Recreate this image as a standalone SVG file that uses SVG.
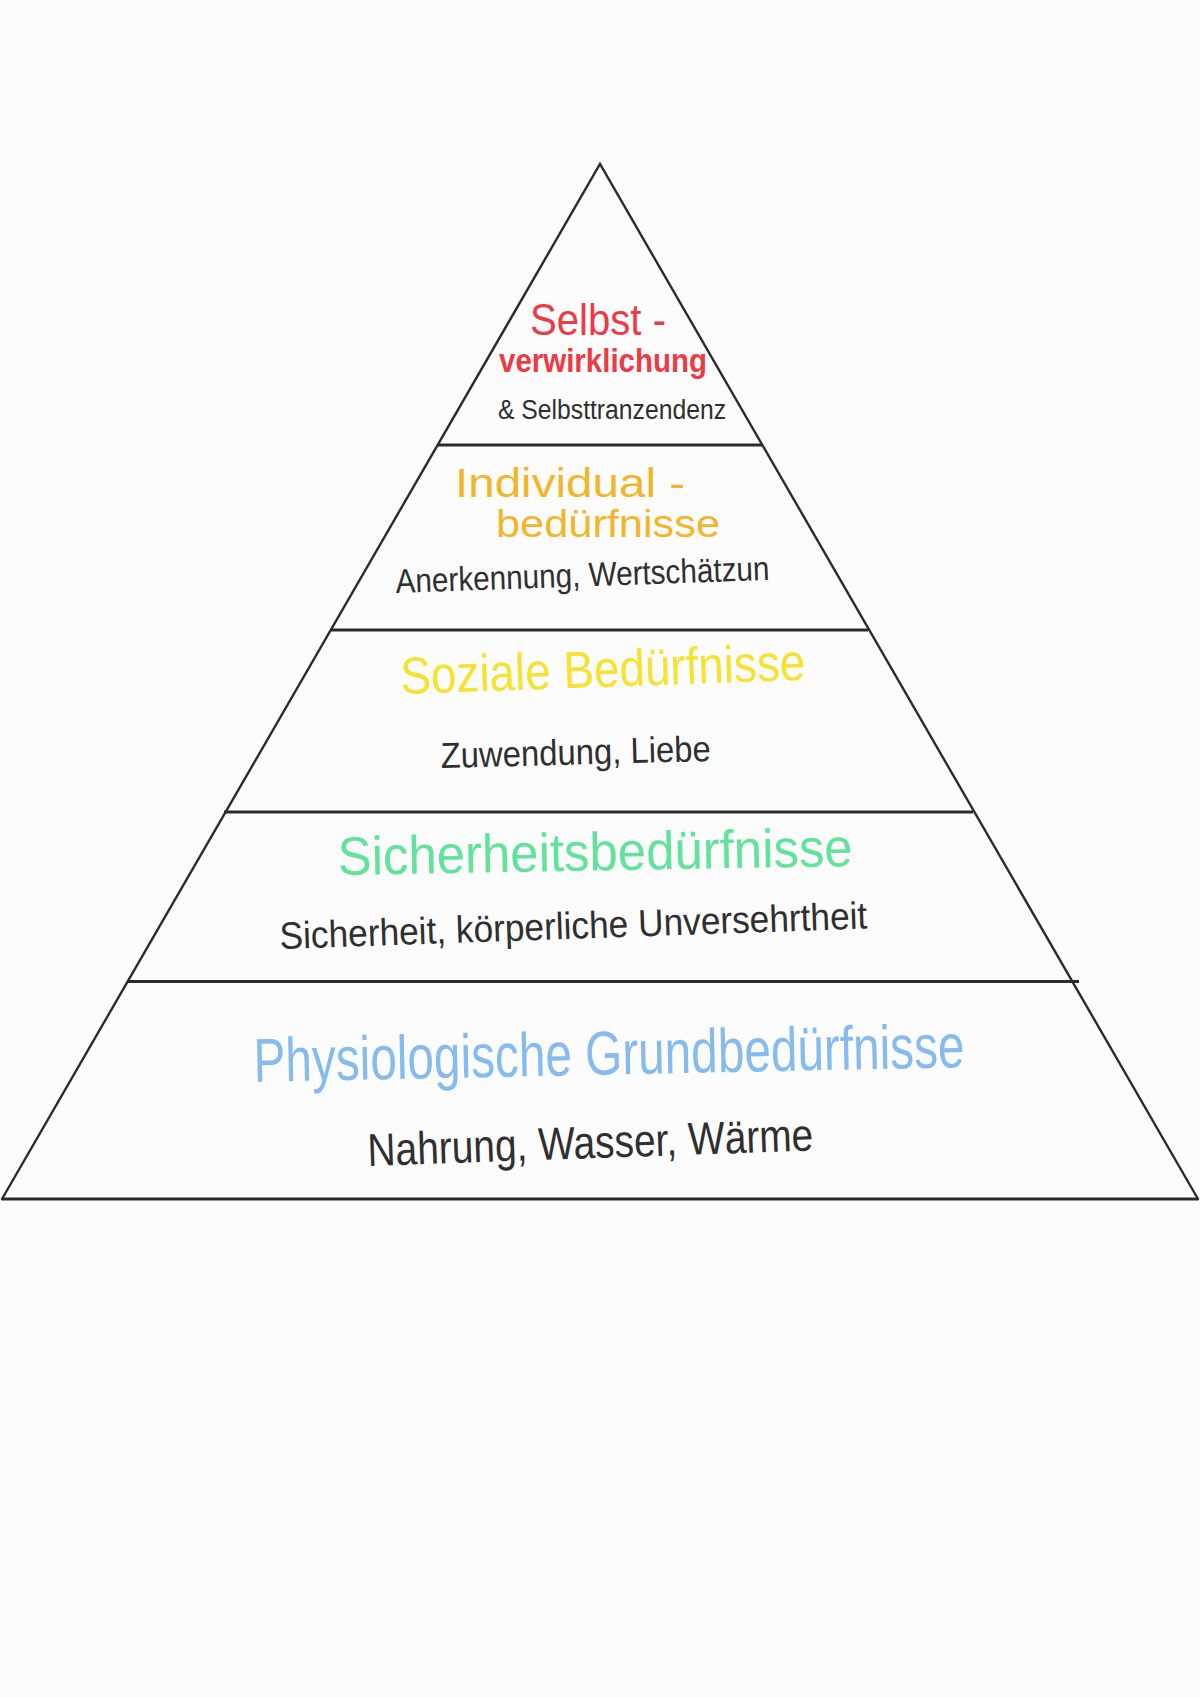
<svg xmlns="http://www.w3.org/2000/svg" width="1200" height="1697" viewBox="0 0 1200 1697">
<style>
.edge{stroke:#2b2b2b;stroke-width:2.4;fill:none;stroke-linecap:round}
.bar{stroke:#2b2b2b;stroke-width:3;fill:none}
text{font-family:"Liberation Sans","DejaVu Sans",sans-serif}
.d{fill:#2f2f2f}
.red{fill:#ec3b44}
.org{fill:#f3b62a}
.yel{fill:#f5e232}
.grn{fill:#62e29a}
.blu{fill:#86bbf0}
</style>
<rect x="0" y="0" width="1200" height="1697" fill="#fcfcfc"/>
<g id="outline">
<path class="edge" d="M2,1199 L600,164 L1198,1199"/>
<line class="bar" x1="2" y1="1199" x2="1198" y2="1199"/>
</g>
<g id="dividers">
<line class="bar" x1="438" y1="445" x2="762" y2="445"/>
<line class="bar" x1="331" y1="630" x2="868" y2="630"/>
<line class="bar" x1="224" y1="812" x2="973" y2="812"/>
<line class="bar" x1="128" y1="981.5" x2="1079" y2="981.5"/>
</g>
<g id="level5">
<text class="red" x="530" y="335" font-size="44" textLength="136" lengthAdjust="spacingAndGlyphs">Selbst -</text>
<text class="red" x="499" y="372" font-size="34" font-weight="bold" textLength="208" lengthAdjust="spacingAndGlyphs">verwirklichung</text>
<text class="d" x="498" y="419" font-size="27" textLength="228" lengthAdjust="spacingAndGlyphs">&amp; Selbsttranzendenz</text>
</g>
<g id="level4">
<text class="org" x="455" y="497" font-size="40" textLength="230" lengthAdjust="spacingAndGlyphs">Individual -</text>
<text class="org" x="496" y="537" font-size="38" textLength="224" lengthAdjust="spacingAndGlyphs">bedürfnisse</text>
<text class="d" x="396" y="593" font-size="34" textLength="374" lengthAdjust="spacingAndGlyphs" transform="rotate(-2 396 593)">Anerkennung, Wertschätzun</text>
</g>
<g id="level3">
<text class="yel" x="401" y="694" font-size="52" textLength="405" lengthAdjust="spacingAndGlyphs" transform="rotate(-2 401 694)">Soziale Bedürfnisse</text>
<text class="d" x="441" y="768" font-size="36" textLength="270" lengthAdjust="spacingAndGlyphs" transform="rotate(-1.5 441 768)">Zuwendung, Liebe</text>
</g>
<g id="level2">
<text class="grn" x="338" y="875" font-size="54" textLength="515" lengthAdjust="spacingAndGlyphs" transform="rotate(-1 338 875)">Sicherheitsbedürfnisse</text>
<text class="d" x="280" y="949" font-size="38" textLength="588" lengthAdjust="spacingAndGlyphs" transform="rotate(-2 280 949)">Sicherheit, körperliche Unversehrtheit</text>
</g>
<g id="level1">
<text class="blu" x="254" y="1082" font-size="62" textLength="711" lengthAdjust="spacingAndGlyphs" transform="rotate(-1.2 254 1082)">Physiologische Grundbedürfnisse</text>
<text class="d" x="368" y="1166" font-size="46" textLength="446" lengthAdjust="spacingAndGlyphs" transform="rotate(-2 368 1166)">Nahrung, Wasser, Wärme</text>
</g>
</svg>
